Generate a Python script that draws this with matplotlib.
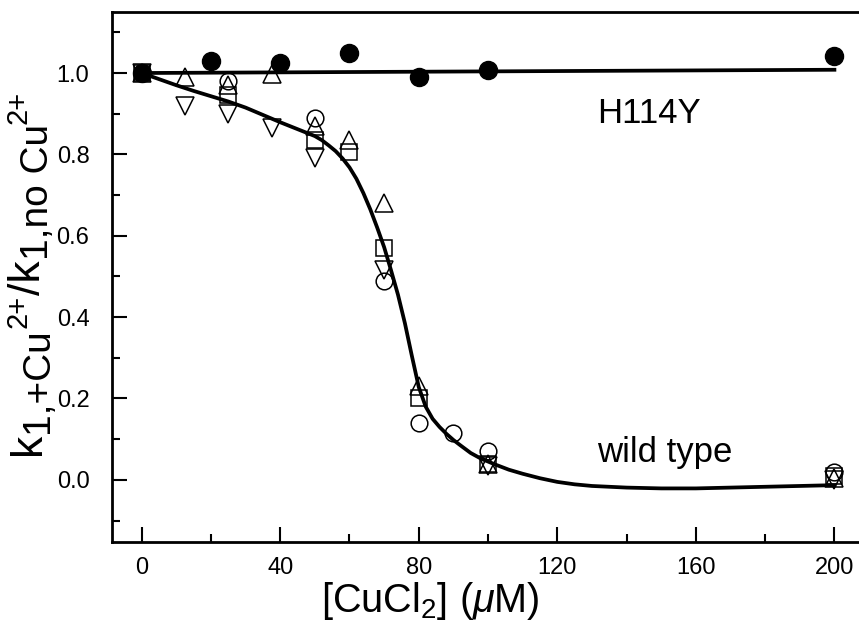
import matplotlib
matplotlib.use("Agg")
import matplotlib.pyplot as plt
from matplotlib.ticker import MultipleLocator
from matplotlib.transforms import IdentityTransform

plt.rcParams['font.family'] = ['Liberation Sans', 'DejaVu Sans']
plt.rcParams['mathtext.fontset'] = 'custom'
plt.rcParams['mathtext.rm'] = 'Liberation Sans'
plt.rcParams['mathtext.it'] = 'Liberation Sans:italic'

# H114Y mutant (filled circles)
h_x = [0, 20, 40, 60, 80, 100, 200]
h_y = [1.0, 1.03, 1.025, 1.048, 0.99, 1.007, 1.042]
h_fit_x = [0, 200]
h_fit_y = [1.0, 1.008]

# wild type, four data sets
circ_x = [0, 25, 50, 70, 80, 90, 100, 200]
circ_y = [1.0, 0.98, 0.89, 0.49, 0.14, 0.115, 0.07, 0.02]
sq_x = [0, 25, 50, 60, 70, 80, 100, 200]
sq_y = [1.0, 0.945, 0.835, 0.805, 0.57, 0.2, 0.04, 0.01]
up_x = [0, 12.5, 25, 37.5, 50, 60, 70, 80, 100, 200]
up_y = [1.0, 0.99, 0.97, 0.998, 0.87, 0.835, 0.68, 0.23, 0.04, 0.005]
dn_x = [0, 12.5, 25, 37.5, 50, 70, 100, 200]
dn_y = [1.0, 0.92, 0.90, 0.865, 0.79, 0.515, 0.035, 0.0]

# wild type fitted curve
wt_fit_x = [0, 5, 10, 15, 20, 25, 30, 35, 40, 45, 50, 52, 54, 56, 58, 60,
            62, 64, 66, 68, 70, 72, 74, 76, 78, 80, 82, 84, 86, 88, 90, 92,
            95, 98, 102, 106, 110, 115, 120, 125, 130, 140, 150, 160, 170,
            180, 190, 200]
wt_fit_y = [1.0, 0.985, 0.97, 0.956, 0.943, 0.93, 0.915, 0.897, 0.879,
            0.862, 0.845, 0.835, 0.822, 0.808, 0.79, 0.768, 0.74, 0.705,
            0.665, 0.62, 0.572, 0.515, 0.455, 0.385, 0.305, 0.228, 0.18,
            0.15, 0.13, 0.113, 0.098, 0.085, 0.066, 0.052, 0.038, 0.025,
            0.015, 0.004, -0.005, -0.011, -0.015, -0.019, -0.021, -0.021,
            -0.019, -0.017, -0.015, -0.013]

fig = plt.figure(figsize=(8.59, 6.21), dpi=100)
ax = fig.add_axes([0.130, 0.1277, 0.870, 0.853])

ms = 12
ax.plot(circ_x, circ_y, 'o', mfc='none', mec='k', mew=1.1, ms=ms)
ax.plot(sq_x, sq_y, 's', mfc='none', mec='k', mew=1.1, ms=ms - 1)
ax.plot(up_x, up_y, '^', mfc='none', mec='k', mew=1.1, ms=ms + 1)
ax.plot(dn_x, dn_y, 'v', mfc='none', mec='k', mew=1.1, ms=ms + 1)
ax.plot(wt_fit_x, wt_fit_y, '-', color='k', lw=2.7)
ax.plot(h_fit_x, h_fit_y, '-', color='k', lw=2.7)
ax.plot(h_x, h_y, 'o', color='k', ms=13)

ax.text(131.5, 0.877, 'H114Y', fontsize=25)
ax.text(131.5, 0.045, 'wild type', fontsize=25)

ax.set_xlim(-8.66, 207.1)
ax.set_ylim(-0.152, 1.15)
ax.xaxis.set_major_locator(MultipleLocator(40))
ax.xaxis.set_minor_locator(MultipleLocator(20))
ax.yaxis.set_major_locator(MultipleLocator(0.2))
ax.yaxis.set_minor_locator(MultipleLocator(0.1))
ax.yaxis.set_major_formatter(plt.FormatStrFormatter('%.1f'))
ax.tick_params(which='both', direction='in', width=1.5, labelsize=17,
               top=False, right=False)
ax.tick_params(which='major', length=11, pad=11)
ax.tick_params(which='minor', length=5.5)
ax.tick_params(axis='y', which='major', pad=16)
for s in ['left', 'bottom', 'top']:
    ax.spines[s].set_linewidth(2)
ax.spines['right'].set_visible(False)

ax.set_xlabel(r'[CuCl$_2$] ($\mu$M)', fontsize=28.5)
ax.xaxis.set_label_coords(0.427, -0.072)

# y label built piece by piece (big subscripts as in the original)
ylab = [('k', 32, 0), ('1,+Cu', 28, 8), ('2+', 21, -13),
        ('/k', 32, 0), ('1,no Cu', 28, 8), ('2+', 21, -13)]
renderer = fig.canvas.get_renderer()
x0, y0 = 40, 166
for txt, size, dx in ylab:
    t = fig.text(x0 + dx, y0, txt, fontsize=size, rotation=90,
                 rotation_mode='anchor', ha='left', va='baseline',
                 transform=IdentityTransform())
    y0 += t.get_window_extent(renderer).height

fig.savefig('out.png', dpi=100)
